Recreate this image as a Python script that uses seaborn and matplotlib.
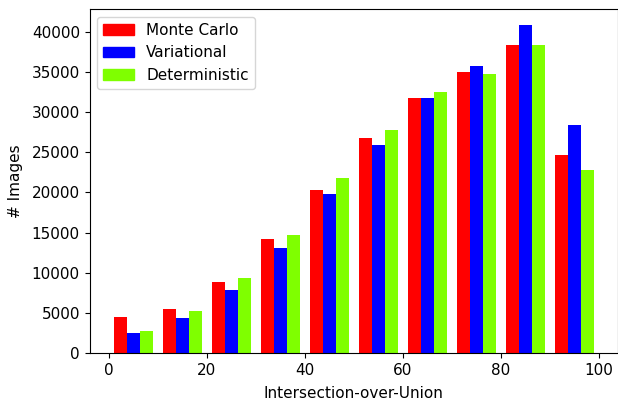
import matplotlib
matplotlib.use("Agg")
import matplotlib.pyplot as plt
import matplotlib.patches as mpatches
import numpy as np
import pandas as pd
import seaborn as sns

# -----------------------------------------------------
# Data (counts per IoU bin)
# -----------------------------------------------------

bin_edges = list(range(0, 101, 10))
bin_centers = [5, 15, 25, 35, 45, 55, 65, 75, 85, 95]
methods = ["Monte Carlo", "Variational", "Deterministic"]

monte_carlo = [4490, 5490, 8850, 14200, 20300, 26800, 31800, 35000, 38400, 24700]
variational = [2490, 4360, 7860, 13100, 19800, 25900, 31700, 35700, 40800, 28400]
deterministic = [2740, 5240, 9350, 14700, 21800, 27800, 32500, 34700, 38300, 22800]

colors = ["#ff0000", "#0000ff", "#7fff00"]

df = pd.DataFrame({
    "iou": bin_centers * 3,
    "method": [m for m in methods for _ in bin_centers],
    "count": monte_carlo + variational + deterministic,
})

# -----------------------------------------------------
# Plot
# -----------------------------------------------------

sns.set_style("ticks")
plt.rcParams["font.family"] = ["DejaVu Sans"]
plt.rcParams["text.color"] = "black"
plt.rcParams["axes.labelcolor"] = "black"
plt.rcParams["xtick.color"] = "black"
plt.rcParams["ytick.color"] = "black"

fig, ax = plt.subplots(figsize=(6.18, 4), dpi=100)
fig.subplots_adjust(left=0.145, right=1.0, bottom=0.1175, top=0.9775)

sns.histplot(
    data=df,
    x="iou",
    weights="count",
    hue="method",
    hue_order=methods,
    palette=colors,
    bins=bin_edges,
    multiple="dodge",
    shrink=0.8,
    element="bars",
    alpha=1,
    linewidth=0,
    legend=False,
    ax=ax,
)

ax.set_xlabel("Intersection-over-Union", fontsize=11, labelpad=6)
ax.set_ylabel("# Images", fontsize=11, labelpad=6)
ax.set_xlim(-3.9, 103.9)
ax.set_ylim(0, 42840)
ax.set_xticks([0, 20, 40, 60, 80, 100])
ax.set_yticks(range(0, 40001, 5000))
ax.tick_params(labelsize=11, color="black", length=3.5, width=0.8)
for s in ax.spines.values():
    s.set_color("black")
    s.set_linewidth(0.8)

handles = [mpatches.Patch(color=c, label=m) for c, m in zip(colors, methods)]
ax.legend(handles=handles, loc="upper left", fontsize=11, frameon=True)

plt.savefig("out.png", dpi=100)
plt.close()
